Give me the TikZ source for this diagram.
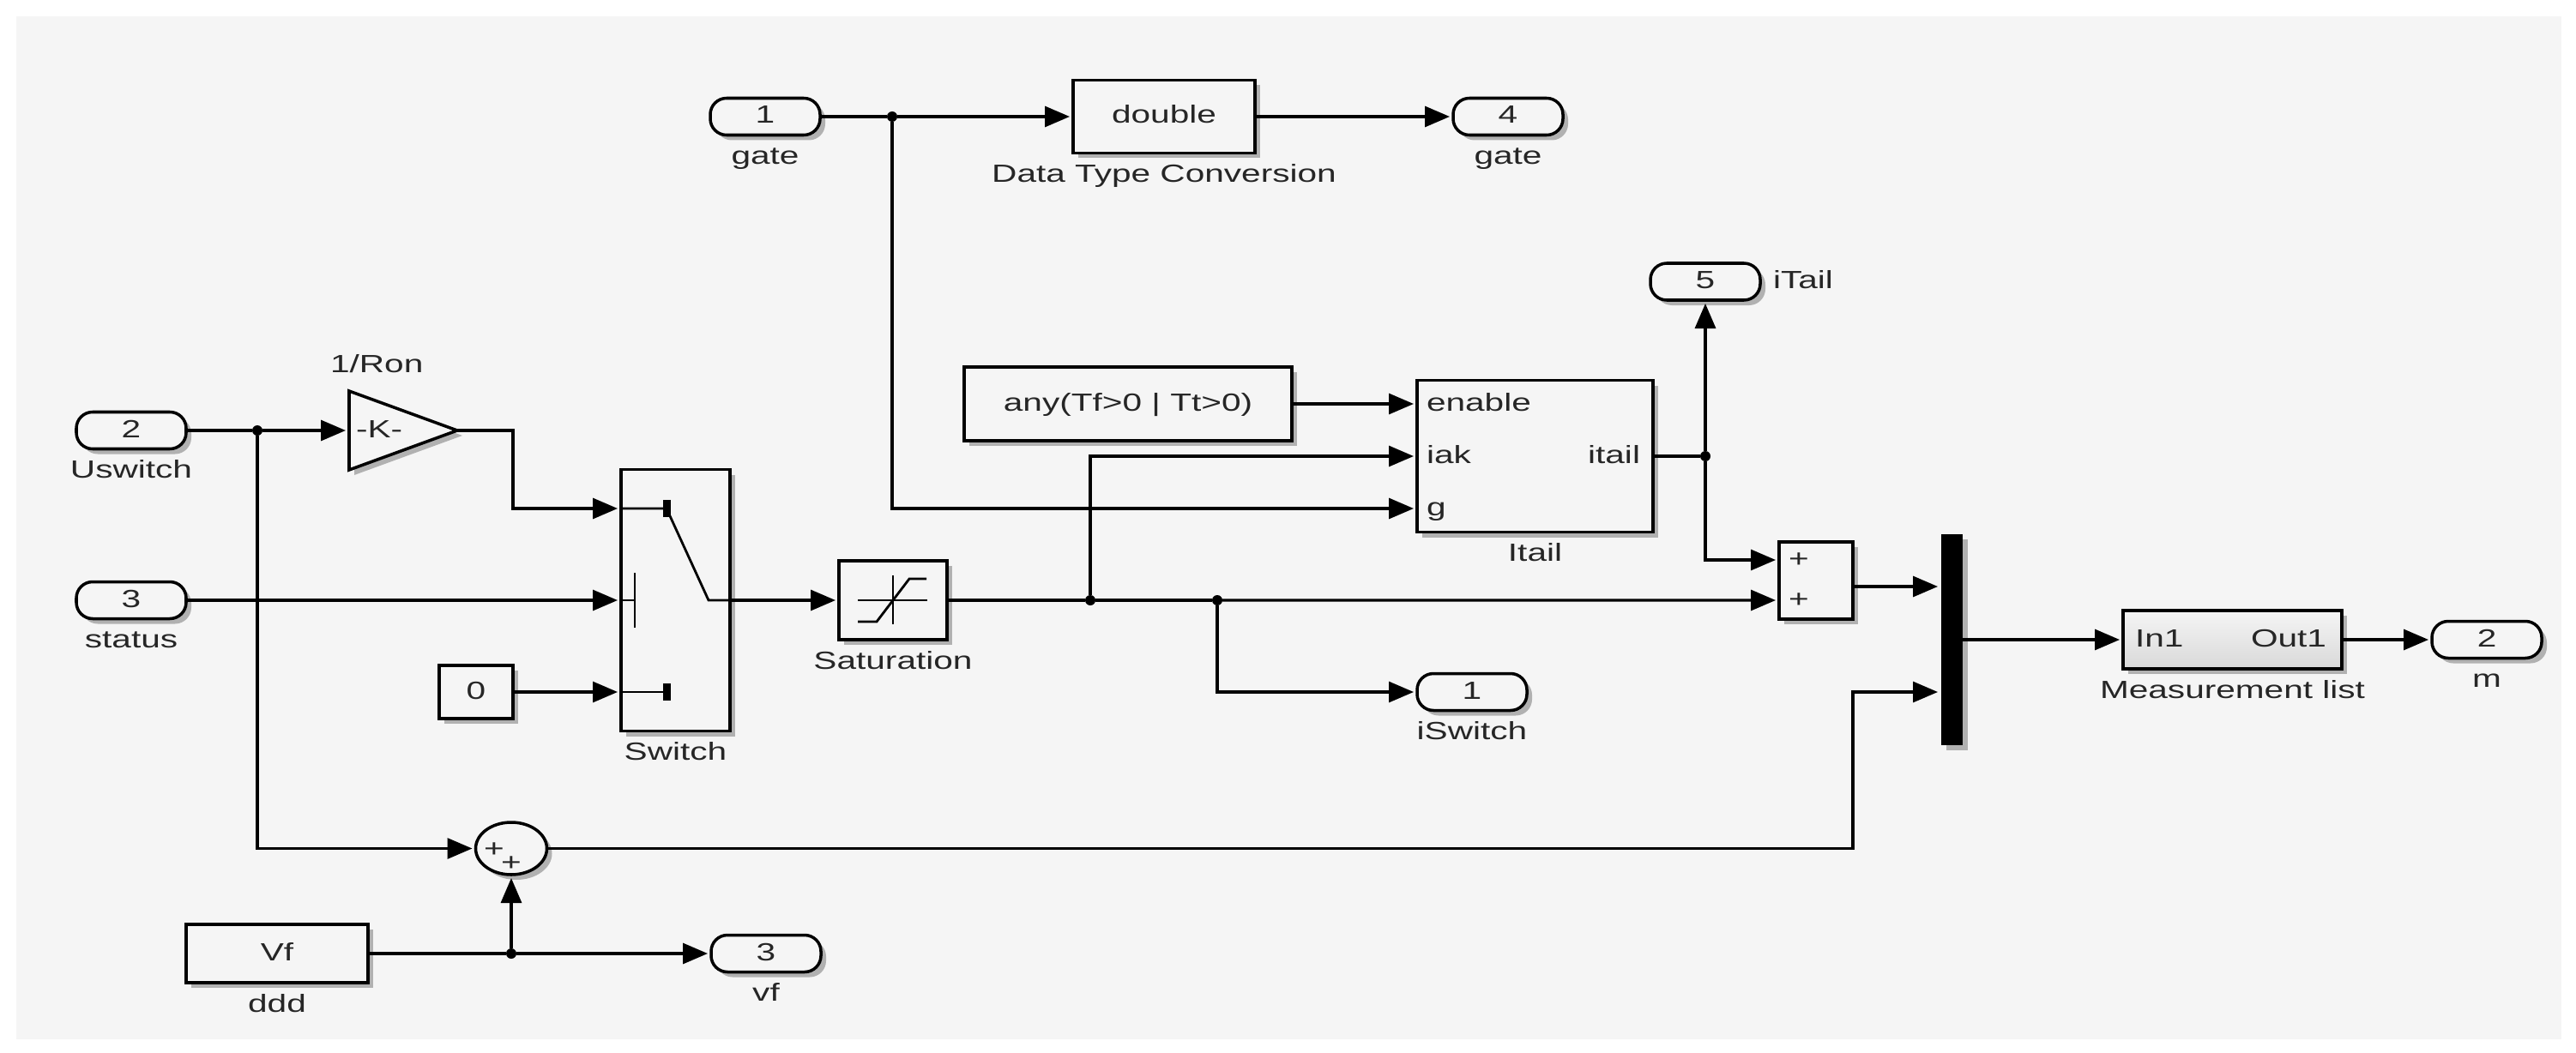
\documentclass[tikz,border=0pt]{standalone}
\usepackage{fontspec}
\setmainfont{Liberation Sans}[FakeStretch=1.4]
\usetikzlibrary{positioning,arrows.meta,shapes.geometric,shadows,calc}
\definecolor{panelgray}{HTML}{F5F5F5}

\begin{document}
\begin{tikzpicture}[
      every node/.style={font=\fontsize{8.25}{10}\selectfont,text=black!85,outer sep=0pt},
      >={Triangle[length=2.9mm,width=2.4mm]},
      txt/.style={inner sep=0pt,text height=.22cm,text depth=.06cm},
      caption/.style={txt,below=.12cm of #1},
      shade/.style={drop shadow={shadow xshift=.06cm,shadow yshift=-.06cm,opacity=.4,fill=black!70}},
      block/.style={rectangle,draw=black,line width=1pt,fill=panelgray,shade,txt},
      port/.style={block,rounded corners=.19cm,minimum width=1.28cm,minimum height=.43cm},
      dot/.style={circle,fill=black,inner sep=0pt,minimum size=.12cm},
      glyph/.style={draw=black,line width=.8pt},
      stub/.style={draw=black,line width=.09cm},
      plain/.style={draw,line width=.9pt},
      wire/.style={draw,line width=.9pt,->,shorten >=.04cm},
    ]
      \useasboundingbox (0,0) rectangle (30.03,-12.27);
      \fill[panelgray] (.19,-.19) rectangle (29.86,-12.12);

      \node[port] (uswitch) at (1.53,-5.02) {2};
      \node[caption=uswitch] (uswitchname) {Uswitch};
      \node[port, below=1.55cm of uswitch] (status) {3};
      \node[caption=status] (statusname) {status};
      \node[dot, right=.77cm of uswitch] (jin) {};
      \node[isosceles triangle, isosceles triangle stretches, draw=black, line width=1pt,
            fill=panelgray, shade, inner sep=0pt, minimum width=.92cm, minimum height=1.26cm,
            right=1.01cm of jin, anchor=lower side] (gain) {};
      \node[txt, right=.08cm of gain.lower side] (gaink) {-K-};
      \node[txt, above=.27cm of gain.north] (gainname) {1/Ron};

      \node[block, right=5.07cm of status, minimum width=1.27cm, minimum height=3.05cm] (switch) {};
      \node[caption=switch] (switchname) {Switch};
      \node[block, left=1.26cm of switch.west, yshift=-1.07cm, minimum width=.86cm, minimum height=.62cm] (zero) {0};
      \coordinate (swa) at ($(switch.west)+(0,1.07)$);
      \coordinate (swc) at (swa |- zero);

      \node[block, right=1.27cm of switch, minimum width=1.26cm, minimum height=.92cm] (sat) {};
      \node[caption=sat] (satname) {Saturation};
      \node[dot, right=1.61cm of sat] (jiak) {};
      \node[dot, right=1.36cm of jiak] (jout) {};
      \node[port, right=2.27cm of jout, yshift=-1.07cm] (iswitch) {1};
      \node[caption=iswitch] (iswitchname) {iSwitch};

      \node[block, minimum width=2.75cm, minimum height=1.77cm] (itail) at (17.895,-5.32) {};
      \node[caption=itail] (itailname) {Itail};
      \coordinate (itaila) at ($(itail.west)+(0,.61)$);
      \coordinate (itailb) at (itail.west);
      \coordinate (itailc) at ($(itail.west)+(0,-.61)$);
      \node[txt, right=.11cm of itaila] (enablename) {enable};
      \node[txt, right=.11cm of itailb] (iakname) {iak};
      \node[txt, right=.11cm of itailc] (gname) {g};
      \node[txt, left=.15cm of itail.east] (itailout) {itail};
      \node[block, left=1.46cm of itaila, minimum width=3.82cm, minimum height=.86cm] (anyon) {any(Tf>0 | Tt>0)};
      \node[dot, right=.55cm of itail] (jtail) {};
      \node[port, above=1.76cm of jtail] (tailport) {5};
      \node[txt, right=.15cm of tailport] (tailname) {iTail};

      \node[port] (gatein) at (8.92,-1.36) {1};
      \node[caption=gatein] (gateinname) {gate};
      \node[dot, right=.78cm of gatein] (jgate) {};
      \node[block, right=2.05cm of jgate, minimum width=2.12cm, minimum height=.85cm] (todouble) {double};
      \node[caption=todouble] (todoublename) {Data Type Conversion};
      \node[port, right=2.31cm of todouble] (gateout) {4};
      \node[caption=gateout] (gateoutname) {gate};

      \node[block, minimum width=.86cm, minimum height=.9cm] (add) at (21.17,-6.77) {};
      \coordinate (adda) at ($(add.west)+(0,.24)$);
      \coordinate (addb) at ($(add.west)+(0,-.23)$);
      \coordinate (addout) at ($(add.east)+(0,-.07)$);
      \node[txt, right=.11cm of adda] (addplusa) {+};
      \node[txt, right=.11cm of addb] (addplusb) {+};
      \node[rectangle, fill=black, shade, inner sep=0pt, minimum width=.25cm, minimum height=2.46cm,
            right=1.03cm of add, yshift=-.69cm] (mux) {};
      \coordinate (muxb) at ($(mux.west)+(0,-.61)$);
      \node[block, top color=panelgray, bottom color=black!15, right=1.87cm of mux,
            minimum width=2.55cm, minimum height=.68cm] (meas) {};
      \node[caption=meas] (measname) {Measurement list};
      \node[txt, right=.14cm of meas.west] (inname) {In1};
      \node[txt, left=.18cm of meas.east] (outname) {Out1};
      \node[port, right=1.05cm of meas] (mout) {2};
      \node[caption=mout] (moutname) {m};

      \node[block, minimum width=2.12cm, minimum height=.68cm] (ddd) at (3.23,-11.12) {Vf};
      \node[caption=ddd] (dddname) {ddd};
      \node[dot, right=1.61cm of ddd] (jvf) {};
      \node[port, right=2.27cm of jvf] (vf) {3};
      \node[caption=vf] (vfname) {vf};
      \node[ellipse, draw=black, line width=1pt, fill=panelgray, shade, inner sep=0pt,
            minimum width=.83cm, minimum height=.61cm, above=.86cm of jvf] (sum) {};
      \node[txt] (sumplusa) at ($(sum.center)+(-.2,-.02)$) {+};
      \node[txt] (sumplusb) at ($(sum.center)+(0,-.18)$) {+};

      \begin{scope}[shift={(switch.center)}]
        \path[glyph] (-.635,1.07) -- (-.105,1.07) -- (.385,0) -- (.635,0);
        \path[stub] (-.105,.97) -- (-.105,1.17);
        \path[glyph] (-.635,0) -- (-.475,0);
        \path[glyph] (-.475,.32) -- (-.475,-.32);
        \path[glyph] (-.635,-1.07) -- (-.105,-1.07);
        \path[stub] (-.105,-.97) -- (-.105,-1.17);
      \end{scope}
      \begin{scope}[shift={(sat.center)}]
        \path[glyph] (-.41,0) -- (.40,0);
        \path[glyph] (0,.29) -- (0,-.28);
        \path[glyph] (-.41,-.25) -- (-.19,-.25) -- (.19,.25) -- (.39,.25);
      \end{scope}

      \path(uswitch) edge[plain] (jin);
      \path(jin) edge[wire] (gain.lower side);
      \draw[wire] (gain.apex) -- ++(.65,0) |- (swa);
      \path(status) edge[wire] (status -| switch.west);
      \path(zero) edge[wire] (swc);
      \path(switch.east) edge[wire] (sat.west);
      \path(sat) edge[plain] (jiak);
      \path(jiak) edge[plain] (jout);
      \path(jout) edge[wire] (addb);
      \draw[wire] (jiak) |- (itailb);
      \draw[wire] (jout) |- (iswitch);
      \path(anyon) edge[wire] (itaila);
      \path(itail) edge[plain] (jtail);
      \path(jtail) edge[wire] (tailport);
      \draw[wire] (jtail) |- (adda);
      \path(gatein) edge[plain] (jgate);
      \path(jgate) edge[wire] (todouble);
      \path(todouble) edge[wire] (gateout);
      \draw[wire] (jgate) |- (itailc);
      \path(addout) edge[wire] (addout -| mux.west);
      \path(mux) edge[wire] (meas);
      \path(meas) edge[wire] (mout);
      \draw[wire] (jin) |- (sum);
      \draw[wire] (sum.east) -- (sum.east -| add.east) |- (muxb);
      \path(ddd) edge[plain] (jvf);
      \path(jvf) edge[wire] (sum);
      \path(jvf) edge[wire] (vf);
    \end{tikzpicture}
\end{document}
